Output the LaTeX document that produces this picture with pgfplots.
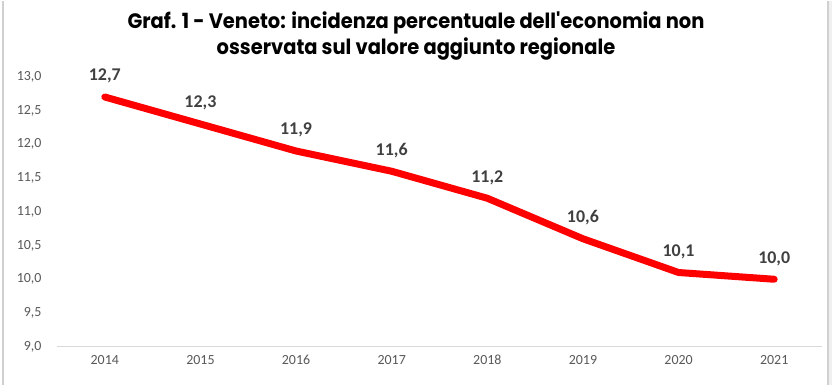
\documentclass[border=0pt]{standalone}
\usepackage{fontspec}
\setmainfont{Carlito}
\newfontfamily\titlefont{Poppins}
\usepackage{pgfplots}
\pgfplotsset{compat=1.18}
\usepackage{graphicx}
\definecolor{tickgray}{HTML}{595959}
\definecolor{labgray}{HTML}{404040}
\definecolor{axgray}{HTML}{D9D9D9}
\definecolor{frame}{HTML}{D0D0D0}
\begin{document}
\begin{tikzpicture}[x=1bp,y=1bp]
\fill[white] (0,0) rectangle (832,384);
\draw[frame, line width=1.5bp] (3,0) -- (3,384);
\draw[frame, line width=1.5bp] (828,0) -- (828,384);
\fill[gray!12] (829,0) rectangle (832,384);
\node[font=\titlefont\fontsize{21}{26}\selectfont\bfseries, align=center, text=black] at (416,349)
  {\scalebox{0.93}[1]{Graf. 1 - Veneto: incidenza percentuale dell'economia non}\\
   \scalebox{0.93}[1]{osservata sul valore aggiunto regionale}};
\begin{axis}[
  at={(57bp,38bp)}, anchor=south west,
  scale only axis, width=765bp, height=270bp,
  xmin=-0.5, xmax=7.5, ymin=9, ymax=13,
  xtick={0,...,7},
  xticklabels={2014,2015,2016,2017,2018,2019,2020,2021},
  ytick={9,9.5,...,13},
  /pgf/number format/.cd, fixed, fixed zerofill, precision=1, use comma, assume math mode=true,
  /pgfplots/.cd,
  axis x line*=bottom, axis y line*=left,
  x axis line style={axgray, line width=1bp, -},
  y axis line style={draw=none},
  major tick length=0pt,
  tick label style={font=\fontsize{14}{16}\selectfont, text=tickgray},
  yticklabel style={anchor=east, xshift=-12bp},
  xticklabel style={yshift=-5bp},
  clip=false,
  nodes near coords,
  nodes near coords style={font=\bfseries\fontsize{18}{20}\selectfont, text=labgray, anchor=south, yshift=7bp,
    /pgf/number format/.cd, fixed, fixed zerofill, precision=1, use comma},
]
\addplot[red, line width=7bp, line cap=round, line join=round, mark=none] coordinates {
  (0,12.7) (1,12.3) (2,11.9) (3,11.6) (4,11.2) (5,10.6) (6,10.1) (7,10.0)};
\end{axis}
\end{tikzpicture}
\end{document}
